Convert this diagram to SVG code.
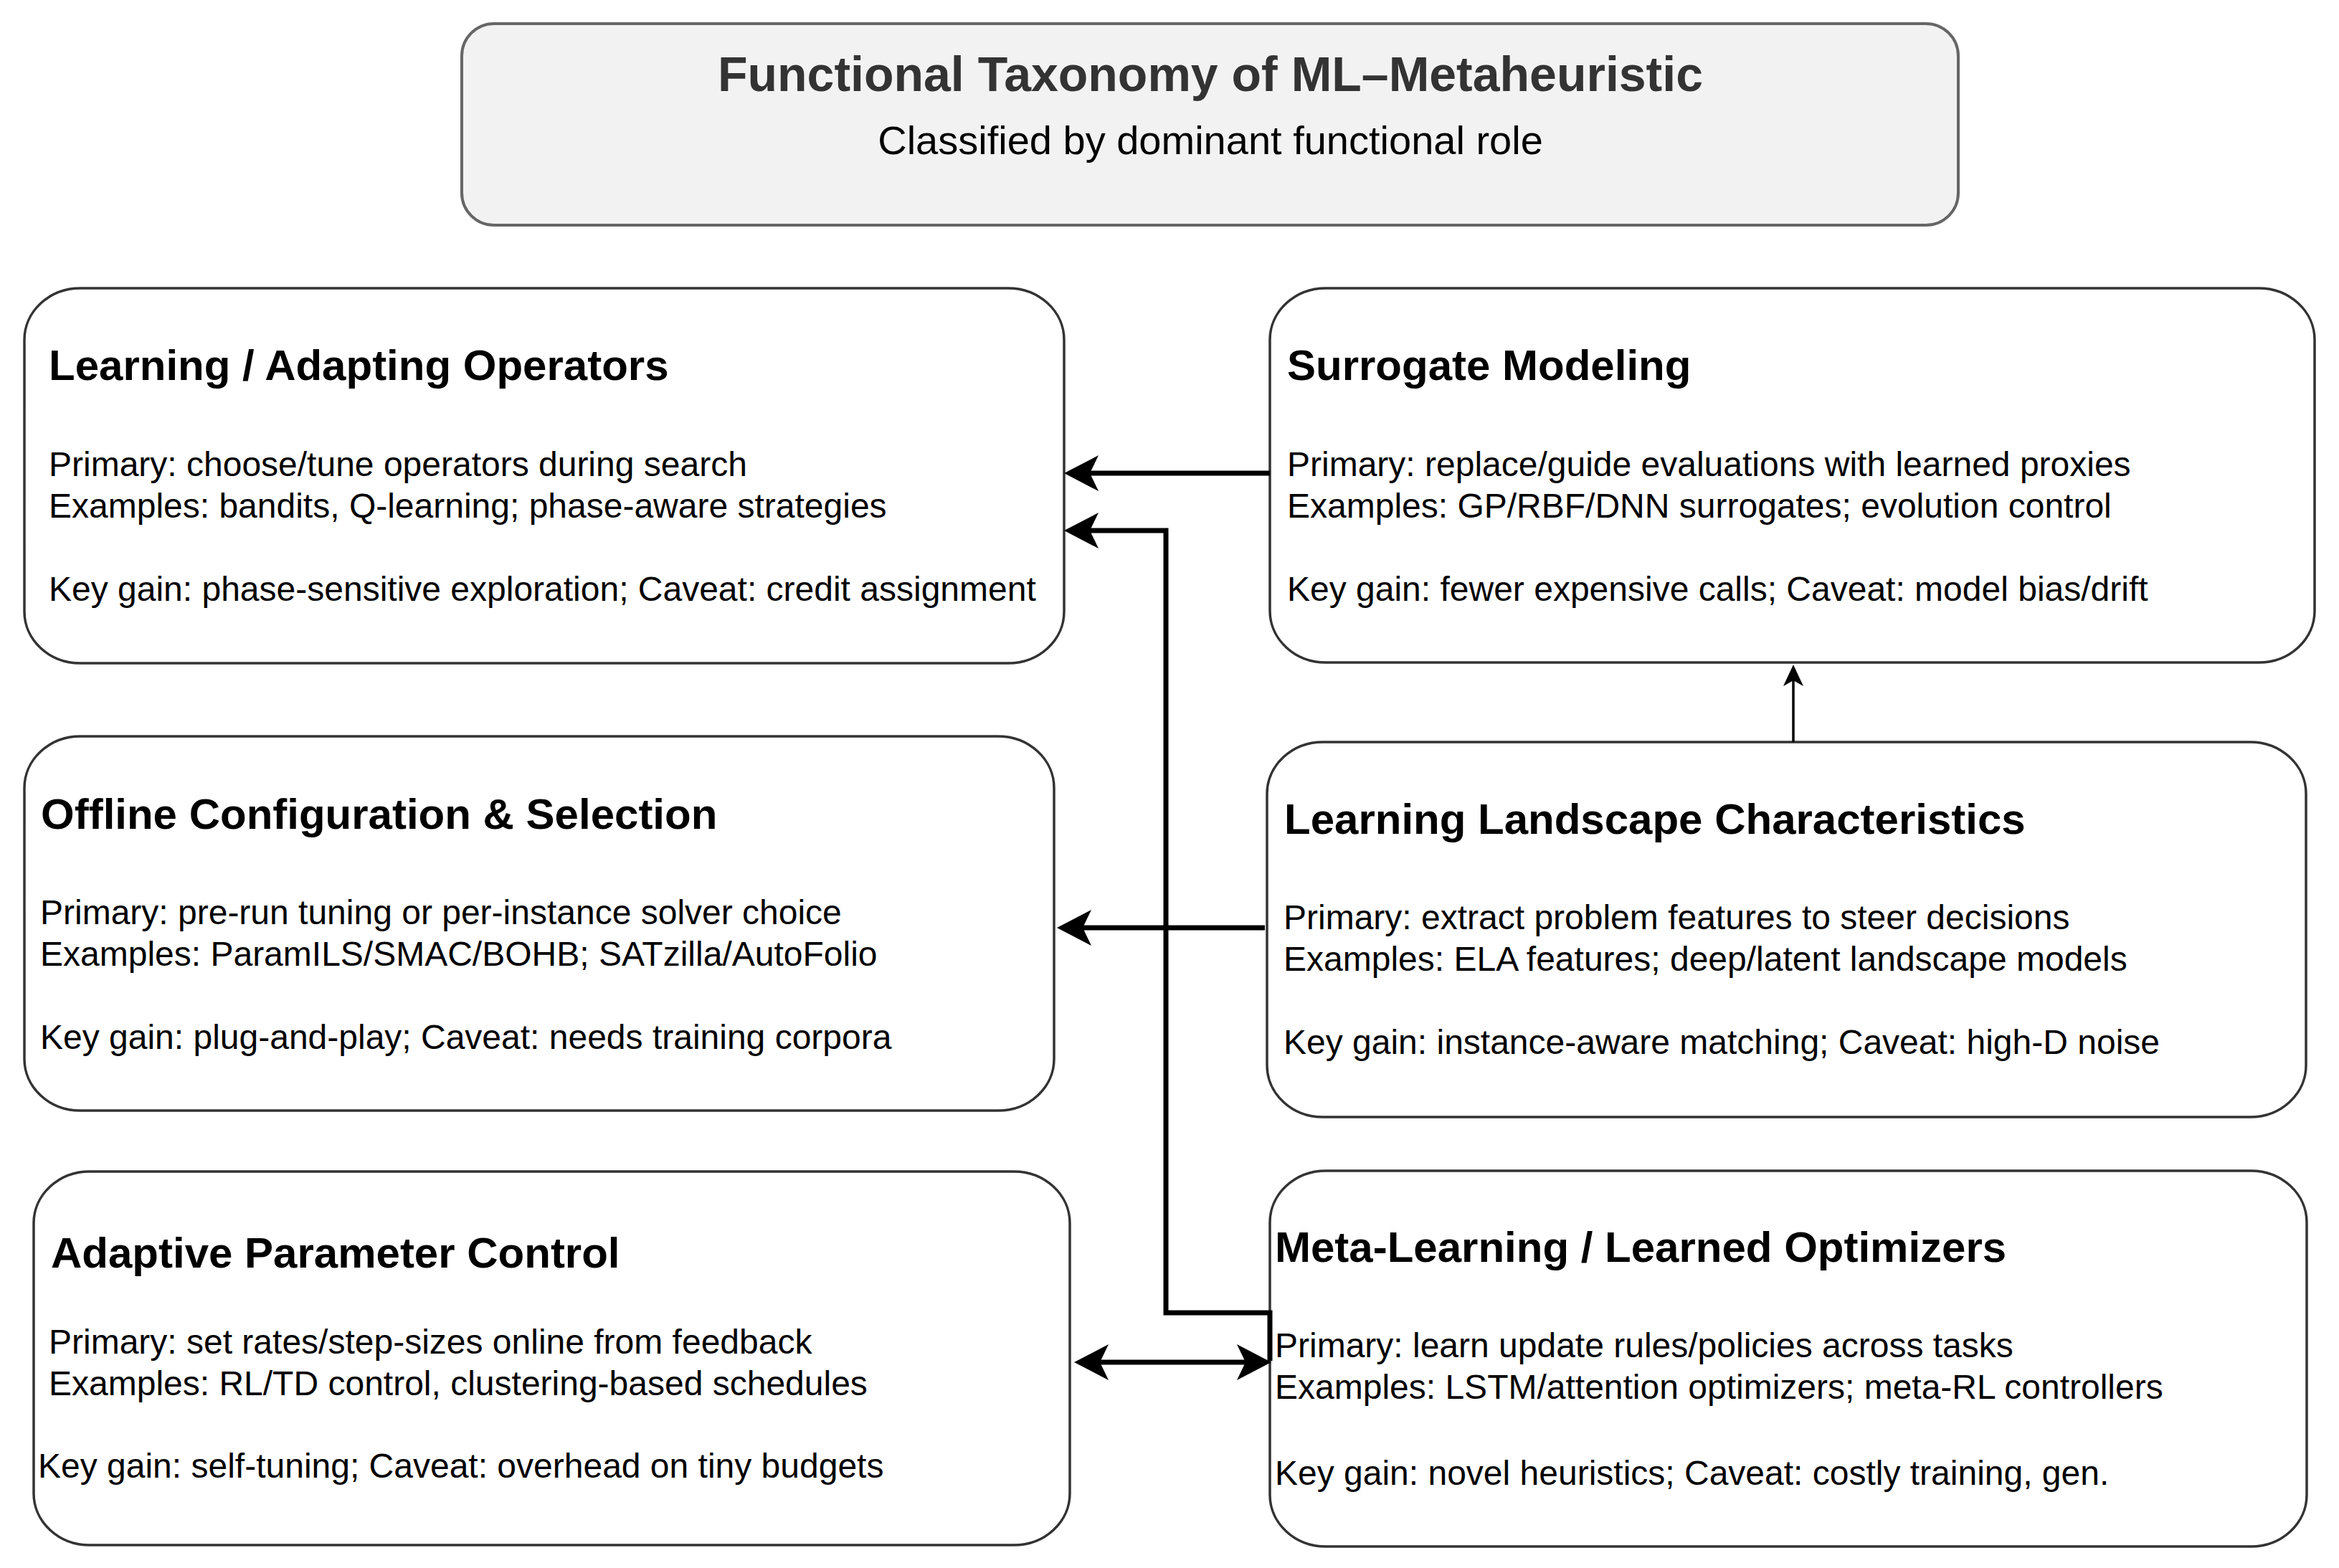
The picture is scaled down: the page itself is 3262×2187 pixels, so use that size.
<svg xmlns="http://www.w3.org/2000/svg" width="3262" height="2187" viewBox="0 0 3262 2187">
<style>
.box{fill:#ffffff;stroke:#333333;stroke-width:3.5}
.tbox{fill:#f2f2f2;stroke:#666666;stroke-width:4}
.ttl{font-family:"Liberation Sans",Arial,Helvetica,sans-serif;font-weight:bold;font-size:68px;fill:#333333;text-anchor:middle}
.sub{font-family:"Liberation Sans",Arial,Helvetica,sans-serif;font-size:56px;fill:#000000;text-anchor:middle}
.hd{font-family:"Liberation Sans",Arial,Helvetica,sans-serif;font-weight:bold;font-size:60px;fill:#000000}
.bd{font-family:"Liberation Sans",Arial,Helvetica,sans-serif;font-size:48px;fill:#000000}
.edge{fill:none;stroke:#000000;stroke-width:7}
.edge-thin{fill:none;stroke:#000000;stroke-width:3.5}
</style>
<defs>
<marker id="ah" markerUnits="userSpaceOnUse" markerWidth="50" markerHeight="52" viewBox="0 0 50 52" refX="12" refY="26" orient="auto-start-reverse">
<path d="M0,1 L48,26 L0,51 L12,26 Z" fill="#000000"/>
</marker>
<marker id="ahs" markerUnits="userSpaceOnUse" markerWidth="32" markerHeight="30" viewBox="0 0 32 30" refX="8" refY="15" orient="auto-start-reverse">
<path d="M0,1 L30,15 L0,29 L8,15 Z" fill="#000000"/>
</marker>
</defs>
<rect width="3262" height="2187" fill="#ffffff"/>

<g id="title">
<rect class="tbox" x="644" y="33" width="2087" height="281" rx="45" ry="45"/>
<text class="ttl" x="1688" y="127">Functional Taxonomy of ML–Metaheuristic</text>
<text class="sub" x="1688" y="215">Classified by dominant functional role</text>
</g>

<g id="learning-adapting-operators">
<rect class="box" x="34" y="402" width="1450" height="523" rx="78" ry="72"/>
<text class="hd" x="68" y="530">Learning / Adapting Operators</text>
<text class="bd" x="68" y="664">Primary: choose/tune operators during search</text>
<text class="bd" x="68" y="722">Examples: bandits, Q-learning; phase-aware strategies</text>
<text class="bd" x="68" y="838">Key gain: phase-sensitive exploration; Caveat: credit assignment</text>
</g>

<g id="surrogate-modeling">
<rect class="box" x="1771" y="402" width="1457" height="522" rx="78" ry="72"/>
<text class="hd" x="1795" y="530">Surrogate Modeling</text>
<text class="bd" x="1795" y="664">Primary: replace/guide evaluations with learned proxies</text>
<text class="bd" x="1795" y="722">Examples: GP/RBF/DNN surrogates; evolution control</text>
<text class="bd" x="1795" y="838">Key gain: fewer expensive calls; Caveat: model bias/drift</text>
</g>

<g id="offline-configuration-selection">
<rect class="box" x="34" y="1027" width="1436" height="522" rx="78" ry="72"/>
<text class="hd" x="57" y="1156">Offline Configuration &amp; Selection</text>
<text class="bd" x="56" y="1289">Primary: pre-run tuning or per-instance solver choice</text>
<text class="bd" x="56" y="1347">Examples: ParamILS/SMAC/BOHB; SATzilla/AutoFolio</text>
<text class="bd" x="56" y="1463">Key gain: plug-and-play; Caveat: needs training corpora</text>
</g>

<g id="learning-landscape-characteristics">
<rect class="box" x="1767" y="1035" width="1449" height="523" rx="78" ry="72"/>
<text class="hd" x="1791" y="1163">Learning Landscape Characteristics</text>
<text class="bd" x="1790" y="1296">Primary: extract problem features to steer decisions</text>
<text class="bd" x="1790" y="1354">Examples: ELA features; deep/latent landscape models</text>
<text class="bd" x="1790" y="1470">Key gain: instance-aware matching; Caveat: high-D noise</text>
</g>

<g id="adaptive-parameter-control">
<rect class="box" x="47" y="1634" width="1445" height="521" rx="78" ry="72"/>
<text class="hd" x="71" y="1768">Adaptive Parameter Control</text>
<text class="bd" x="68" y="1888">Primary: set rates/step-sizes online from feedback</text>
<text class="bd" x="68" y="1946">Examples: RL/TD control, clustering-based schedules</text>
<text class="bd" x="53" y="2061">Key gain: self-tuning; Caveat: overhead on tiny budgets</text>
</g>

<g id="meta-learning-learned-optimizers">
<rect class="box" x="1771" y="1633" width="1446" height="524" rx="78" ry="72"/>
<text class="hd" x="1778" y="1760">Meta-Learning / Learned Optimizers</text>
<text class="bd" x="1778" y="1893">Primary: learn update rules/policies across tasks</text>
<text class="bd" x="1778" y="1951">Examples: LSTM/attention optimizers; meta-RL controllers</text>
<text class="bd" x="1778" y="2071">Key gain: novel heuristics; Caveat: costly training, gen.</text>
</g>

<g id="connectors">
<path class="edge" d="M1771,660 H1520" marker-end="url(#ah)"/>
<path class="edge" d="M1771,1898 V1831 H1626 V740 H1520" marker-end="url(#ah)"/>
<path class="edge" d="M1764,1294 H1510" marker-end="url(#ah)"/>
<path class="edge" d="M1534,1900 H1737" marker-start="url(#ah)" marker-end="url(#ah)"/>
<path class="edge-thin" d="M2501,1035 V949" marker-end="url(#ahs)"/>
</g>
</svg>
